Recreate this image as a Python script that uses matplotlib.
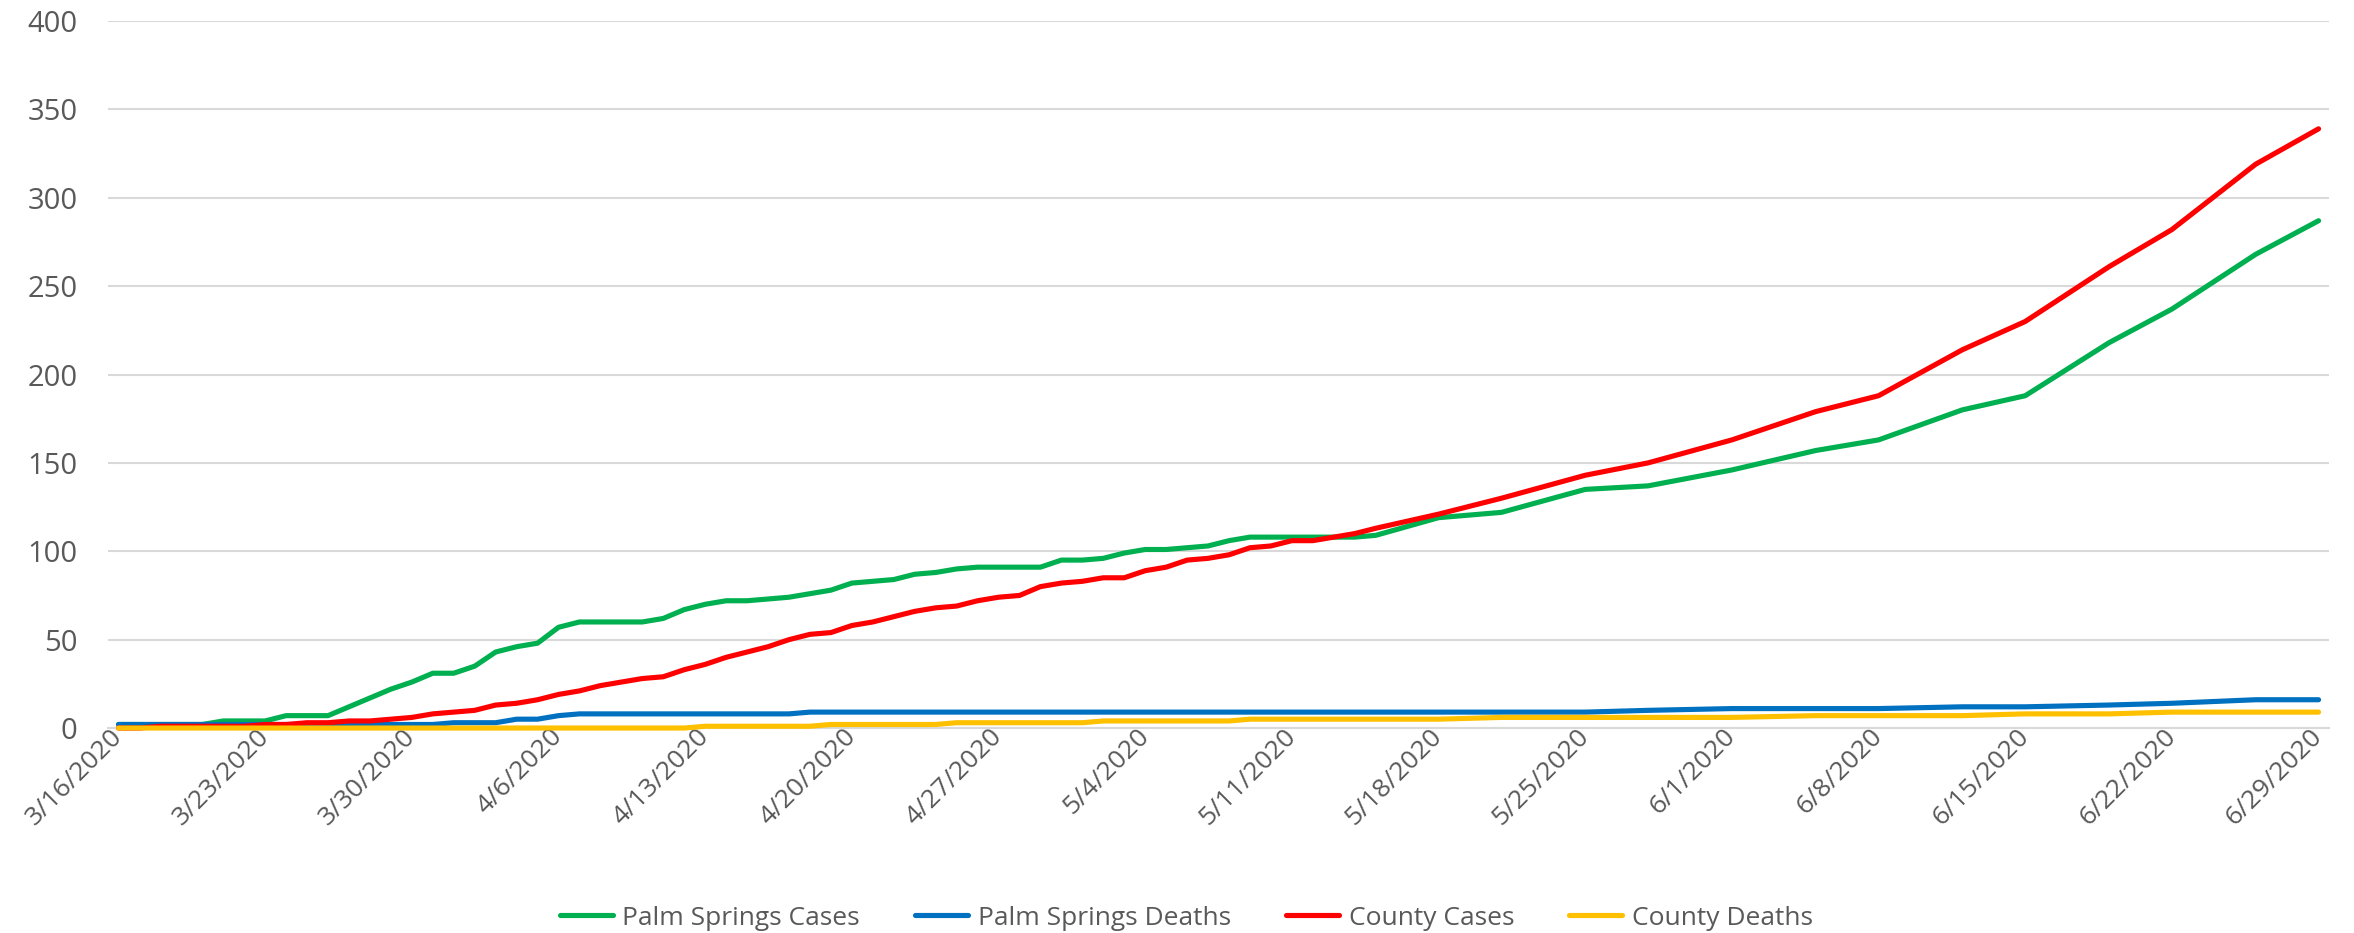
import pandas as pd
import matplotlib
matplotlib.use("Agg")
import matplotlib.pyplot as plt
import matplotlib.dates as mdates
from matplotlib.ticker import FuncFormatter, MultipleLocator

plt.rcParams['font.family'] = ['Open Sans', 'DejaVu Sans']

# daily reports 3/16 - 5/15, then twice a week
dates = list(pd.date_range('2020-03-16', '2020-05-15', freq='D')) + list(pd.to_datetime([
    '2020-05-18', '2020-05-21', '2020-05-25', '2020-05-28', '2020-06-01', '2020-06-05',
    '2020-06-08', '2020-06-12', '2020-06-15', '2020-06-19', '2020-06-22', '2020-06-26',
    '2020-06-29']))

ps_cases = [2, 2, 2, 2, 2, 4, 4, 4, 7, 7, 7, 12, 17, 22, 26, 31, 31, 35, 43, 46,
            48, 57, 60, 60, 60, 60, 62, 67, 70, 72, 72, 73, 74, 76, 78, 82, 83, 84, 87, 88,
            90, 91, 91, 91, 91, 95, 95, 96, 99, 101, 101, 102, 103, 106, 108, 108, 108, 108, 108, 108,
            109,
            119, 122, 135, 137, 146, 157, 163, 180, 188, 218, 237, 268, 287]
ps_deaths = [2, 2, 2, 2, 2, 2, 2, 2, 2, 2, 2, 2, 2, 2, 2, 2, 3, 3, 3, 5,
             5, 7, 8, 8, 8, 8, 8, 8, 8, 8, 8, 8, 8, 9, 9, 9, 9, 9, 9, 9,
             9, 9, 9, 9, 9, 9, 9, 9, 9, 9, 9, 9, 9, 9, 9, 9, 9, 9, 9, 9,
             9,
             9, 9, 9, 10, 11, 11, 11, 12, 12, 13, 14, 16, 16]
county_cases = [0, 0, 1, 1, 1, 1, 1, 2, 2, 3, 3, 4, 4, 5, 6, 8, 9, 10, 13, 14,
                16, 19, 21, 24, 26, 28, 29, 33, 36, 40, 43, 46, 50, 53, 54, 58, 60, 63, 66, 68,
                69, 72, 74, 75, 80, 82, 83, 85, 85, 89, 91, 95, 96, 98, 102, 103, 106, 106, 108, 110,
                113,
                121, 130, 143, 150, 163, 179, 188, 214, 230, 261, 282, 319, 339]
county_deaths = [0, 0, 0, 0, 0, 0, 0, 0, 0, 0, 0, 0, 0, 0, 0, 0, 0, 0, 0, 0,
                 0, 0, 0, 0, 0, 0, 0, 0, 1, 1, 1, 1, 1, 1, 2, 2, 2, 2, 2, 2,
                 3, 3, 3, 3, 3, 3, 3, 4, 4, 4, 4, 4, 4, 4, 5, 5, 5, 5, 5, 5,
                 5,
                 5, 6, 6, 6, 6, 7, 7, 7, 8, 8, 9, 9, 9]

series = [
    ('Palm Springs Cases', ps_cases, '#00B050'),
    ('Palm Springs Deaths', ps_deaths, '#0070C0'),
    ('County Cases', county_cases, '#FF0000'),
    ('County Deaths', county_deaths, '#FFC000'),
]

fig = plt.figure(figsize=(23.54, 9.33), dpi=100)
ax = fig.add_axes([0.0459, 0.2197, 0.9435, 0.7578])

for name, vals, col in series:
    ax.plot(dates, vals, color=col, lw=3.7, label=name, solid_capstyle='round',
            solid_joinstyle='round', clip_on=False, zorder=3)

start = pd.Timestamp('2020-03-16')
ax.set_xlim(start - pd.Timedelta(hours=12), pd.Timestamp('2020-06-29') + pd.Timedelta(hours=12))
ax.set_ylim(0, 400)
ax.yaxis.set_major_locator(MultipleLocator(50))
ax.set_xticks(pd.date_range('2020-03-16', '2020-06-29', freq='7D'))
ax.xaxis.set_major_formatter(FuncFormatter(lambda v, p: '{d.month}/{d.day}/{d.year}'.format(d=mdates.num2date(v))))

ax.grid(axis='y', color='#d9d9d9', lw=1.5, zorder=0)
ax.set_axisbelow(True)
for s in ['top', 'right', 'left']:
    ax.spines[s].set_visible(False)
ax.spines['bottom'].set_color('#d9d9d9')
ax.spines['bottom'].set_linewidth(1.5)
ax.spines['bottom'].set_zorder(0)
ax.tick_params(axis='x', length=0, colors='#595959', labelsize=19)
ax.tick_params(axis='y', length=0, colors='#595959', labelsize=21, pad=22)
for lbl in ax.get_xticklabels():
    lbl.set_rotation(45)
    lbl.set_rotation_mode('anchor')
    lbl.set_ha('right')
    lbl.set_va('center')

fig.legend(loc='center', bbox_to_anchor=(0.504, 0.016), ncol=4, frameon=False,
           fontsize=19, handlelength=2.0, handletextpad=0.36, columnspacing=2.1,
           labelcolor='#595959')

fig.savefig('out.png', dpi=100)
